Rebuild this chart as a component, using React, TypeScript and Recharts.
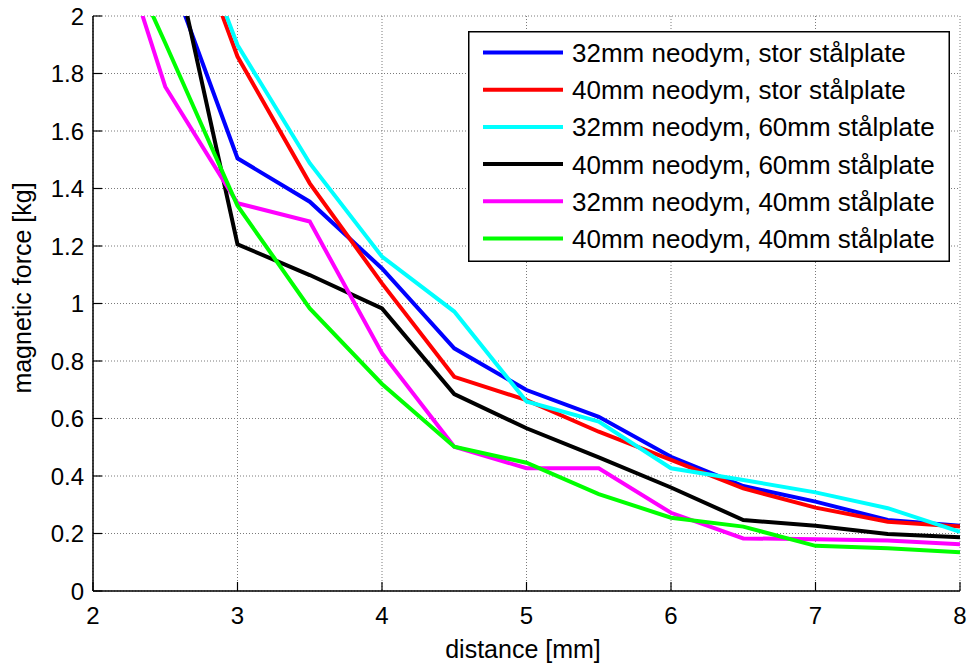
import React from 'react';
import { LineChart, Line, XAxis, YAxis, CartesianGrid, Legend } from 'recharts';

const distance = [2, 2.5, 3, 3.5, 4, 4.5, 5, 5.5, 6, 6.5, 7, 7.5, 8];
const neo32Stor = [2.9, 2.19, 1.505, 1.354, 1.122, 0.844, 0.699, 0.606, 0.467, 0.365, 0.311, 0.247, 0.227];
const neo40Stor = [3.3, 2.54, 1.859, 1.418, 1.07, 0.745, 0.664, 0.554, 0.456, 0.357, 0.29, 0.241, 0.224];
const neo32p60 = [3.4, 2.56, 1.899, 1.488, 1.163, 0.972, 0.659, 0.589, 0.427, 0.386, 0.343, 0.288, 0.206];
const neo40p60 = [3.2, 2.35, 1.206, 1.099, 0.983, 0.685, 0.566, 0.465, 0.36, 0.247, 0.227, 0.198, 0.187];
const neo32p40 = [2.54, 1.754, 1.349, 1.285, 0.827, 0.502, 0.427, 0.427, 0.272, 0.183, 0.18, 0.176, 0.163];
const neo40p40 = [2.46, 1.906, 1.34, 0.983, 0.72, 0.502, 0.446, 0.337, 0.255, 0.224, 0.157, 0.149, 0.135];

const seriesNames = [
  '32mm neodym, stor stålplate',
  '40mm neodym, stor stålplate',
  '32mm neodym, 60mm stålplate',
  '40mm neodym, 60mm stålplate',
  '32mm neodym, 40mm stålplate',
  '40mm neodym, 40mm stålplate',
];
const seriesColors = ['#0000ff', '#ff0000', '#00ffff', '#000000', '#ff00ff', '#00ff00'];
const seriesValues = [neo32Stor, neo40Stor, neo32p60, neo40p60, neo32p40, neo40p40];

const xTicks = [2, 3, 4, 5, 6, 7, 8];
const xTickLabels = ['2', '3', '4', '5', '6', '7', '8'];
const yTicks = [0, 0.2, 0.4, 0.6, 0.8, 1, 1.2, 1.4, 1.6, 1.8, 2];
const yTickLabels = ['0', '0.2', '0.4', '0.6', '0.8', '1', '1.2', '1.4', '1.6', '1.8', '2'];

const xLabel = 'distance [mm]';
const yLabel = 'magnetic force [kg]';

const data = distance.map((d, i) => {
  const row: Record<string, number> = { d };
  seriesValues.forEach((s, k) => {
    row['s' + k] = s[i];
  });
  return row;
});

const FONT = '"Liberation Sans", Arial, Helvetica, sans-serif';
const TICK_LEN = 9;

const BottomTick = (props: any) => {
  const { x, y, payload } = props;
  const idx = xTicks.indexOf(payload.value);
  return (
    <g>
      <line x1={x} x2={x} y1={y} y2={y - TICK_LEN} stroke="#000" strokeWidth={1.2} />
      <text x={x} y={y + 33} textAnchor="middle" fontSize={24} fontFamily={FONT} fill="#000">
        {idx >= 0 ? xTickLabels[idx] : payload.value}
      </text>
    </g>
  );
};

const TopTick = (props: any) => {
  const { x, y } = props;
  return <line x1={x} x2={x} y1={y} y2={y + TICK_LEN} stroke="#000" strokeWidth={1.2} />;
};

const LeftTick = (props: any) => {
  const { x, y, payload } = props;
  const idx = yTicks.indexOf(payload.value);
  return (
    <g>
      <line x1={x} x2={x + TICK_LEN} y1={y} y2={y} stroke="#000" strokeWidth={1.2} />
      <text x={x - 9} y={y + 8.5} textAnchor="end" fontSize={24} fontFamily={FONT} fill="#000">
        {idx >= 0 ? yTickLabels[idx] : payload.value}
      </text>
    </g>
  );
};

const RightTick = (props: any) => {
  const { x, y } = props;
  return <line x1={x} x2={x - TICK_LEN} y1={y} y2={y} stroke="#000" strokeWidth={1.2} />;
};

const renderLegend = () => (
  <svg width={482} height={231} style={{ display: 'block' }}>
    <rect x={0.75} y={0.75} width={480.5} height={229.5} fill="#fff" stroke="#000" strokeWidth={1.5} />
    {seriesNames.map((name, i) => {
      const cy = 21.5 + i * 37.2;
      return (
        <g key={name}>
          <line x1={15} x2={95} y1={cy} y2={cy} stroke={seriesColors[i]} strokeWidth={4} />
          <text x={104} y={cy + 9.5} fontSize={26} fontFamily={FONT} fill="#000">
            {name}
          </text>
        </g>
      );
    })}
  </svg>
);

const XLabelContent = () => (
  <text x={523} y={658} textAnchor="middle" fontSize={25} fontFamily={FONT} fill="#000">
    {xLabel}
  </text>
);

const YLabelContent = () => (
  <text
    x={31}
    y={288}
    transform="rotate(-90, 31, 288)"
    textAnchor="middle"
    fontSize={25}
    fontFamily={FONT}
    fill="#000"
  >
    {yLabel}
  </text>
);

export default function App() {
  return (
    <div style={{ position: 'absolute', left: 0, top: 0, width: 970, height: 663, background: '#fff' }}>
      <LineChart width={970} height={663} data={data} margin={{ top: 16, right: 10, bottom: 0, left: 0 }}>
        <CartesianGrid stroke="#7a7a7a" strokeDasharray="1 2" strokeWidth={1} />
        <XAxis
          dataKey="d"
          type="number"
          domain={[2, 8]}
          ticks={xTicks}
          interval={0}
          height={72}
          tickSize={0}
          tickMargin={0}
          tickLine={false}
          axisLine={{ stroke: '#000', strokeWidth: 1.5 }}
          tick={<BottomTick />}
          allowDataOverflow
          label={{ content: <XLabelContent /> }}
        />
        <XAxis
          xAxisId="top"
          orientation="top"
          dataKey="d"
          type="number"
          domain={[2, 8]}
          ticks={xTicks}
          interval={0}
          height={0}
          tickSize={0}
          tickMargin={0}
          tickLine={false}
          axisLine={{ stroke: '#000', strokeWidth: 1.5 }}
          tick={<TopTick />}
          allowDataOverflow
        />
        <YAxis
          type="number"
          domain={[0, 2]}
          ticks={yTicks}
          interval={0}
          width={93}
          tickSize={0}
          tickMargin={0}
          tickLine={false}
          axisLine={{ stroke: '#000', strokeWidth: 1.5 }}
          tick={<LeftTick />}
          allowDataOverflow
          label={{ content: <YLabelContent /> }}
        />
        <YAxis
          yAxisId="right"
          orientation="right"
          type="number"
          domain={[0, 2]}
          ticks={yTicks}
          interval={0}
          width={0}
          tickSize={0}
          tickMargin={0}
          tickLine={false}
          axisLine={{ stroke: '#000', strokeWidth: 1.5 }}
          tick={<RightTick />}
          allowDataOverflow
        />
        <Legend
          layout="vertical"
          align="center"
          verticalAlign="middle"
          content={renderLegend}
          wrapperStyle={{ position: 'absolute', left: 468, top: 31, width: 482, height: 231 }}
        />
        {seriesNames.map((name, k) => (
          <Line
            key={name}
            type="linear"
            dataKey={'s' + k}
            name={name}
            stroke={seriesColors[k]}
            strokeWidth={4}
            dot={false}
            activeDot={false}
            isAnimationActive={false}
          />
        ))}
      </LineChart>
    </div>
  );
}
